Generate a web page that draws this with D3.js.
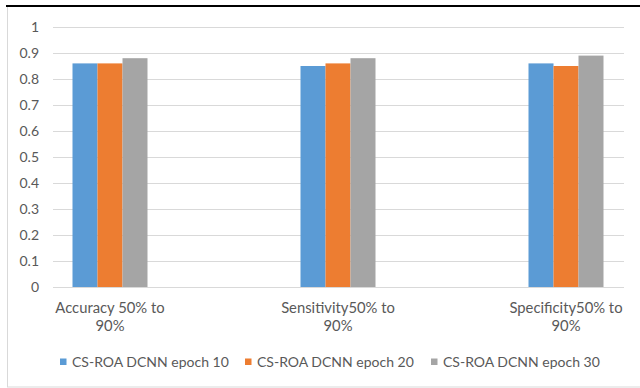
<!DOCTYPE html>
<html lang="en">
<head>
    <meta charset="UTF-8">
    <script src="https://cdn.jsdelivr.net/npm/d3@7"></script>
    <title>CS-ROA DCNN</title>
    <style>
        body { margin: 0; background: #fff; }
        text { font-family: Lato, "Liberation Sans", Arial, sans-serif; fill: #595959; font-size: 14px; }
    </style>
</head>
<body>
<svg width="640" height="388"></svg>

<script>
    const categories = ["Accuracy 50% to 90%", "Sensitivity50% to 90%", "Specificity50% to 90%"];
    const catLines = [["Accuracy 50% to", "90%"], ["Sensitivity50% to", "90%"], ["Specificity50% to", "90%"]];
    const series = ["CS-ROA DCNN epoch 10", "CS-ROA DCNN epoch 20", "CS-ROA DCNN epoch 30"];
    const epoch10 = [0.86, 0.85, 0.86];
    const epoch20 = [0.86, 0.86, 0.85];
    const epoch30 = [0.88, 0.88, 0.89];
    const yTicks = [0, 0.1, 0.2, 0.3, 0.4, 0.5, 0.6, 0.7, 0.8, 0.9, 1];
    const colors = ["#5b9bd5", "#ed7d31", "#a5a5a5"];

    const values = [epoch10, epoch20, epoch30];

    const svg = d3.select("svg");

    // chart frame
    svg.append("rect")
        .attr("x", 7.5).attr("y", 6).attr("width", 640).attr("height", 381)
        .attr("fill", "none").attr("stroke", "#d9d9d9");
    svg.append("line")
        .attr("x1", 6).attr("x2", 640).attr("y1", 6).attr("y2", 6)
        .attr("stroke", "#000").attr("stroke-width", 2);

    const plotL = 53, plotR = 624;
    const y = d3.scaleLinear().domain([0, 1]).range([287, 27]);
    const x = d3.scalePoint().domain(categories).range([110, 566]);
    const inner = d3.scaleBand().domain(series).range([-37.5, 37.5]);

    // gridlines
    svg.append("g").selectAll("line")
        .data(yTicks)
        .join("line")
          .attr("x1", plotL).attr("x2", plotR)
          .attr("y1", d => Math.round(y(d)) + 0.5).attr("y2", d => Math.round(y(d)) + 0.5)
          .attr("stroke", "#d9d9d9");

    svg.append("g").selectAll("text")
        .data(yTicks)
        .join("text")
          .attr("x", 39).attr("y", d => y(d) + 5)
          .attr("text-anchor", "end")
          .text(d => d3.format("")(d));

    // bars
    const groups = svg.append("g").selectAll("g")
        .data(series)
        .join("g")
          .attr("fill", (d, i) => colors[i]);
    groups.selectAll("rect")
        .data((s, i) => categories.map((c, j) => ({s: s, c: c, v: values[i][j]})))
        .join("rect")
          .attr("x", d => x(d.c) + inner(d.s))
          .attr("width", inner.bandwidth())
          .attr("y", d => y(d.v))
          .attr("height", d => y(0) - y(d.v));

    // category labels
    svg.append("g").selectAll("text")
        .data(categories)
        .join("text")
          .attr("x", d => x(d))
          .attr("y", 313)
          .attr("text-anchor", "middle")
          .style("font-size", "14.8px")
          .selectAll("tspan")
          .data((d, i) => catLines[i])
          .join("tspan")
            .attr("x", function() { return this.parentNode.getAttribute("x"); })
            .attr("dy", (d, i) => i ? 17.5 : 0)
            .text(d => d);

    // legend
    const legX = [60, 245, 431];
    const leg = svg.append("g").selectAll("g")
        .data(series)
        .join("g")
          .attr("transform", (d, i) => `translate(${legX[i]},362)`);
    leg.append("rect")
        .attr("x", 0).attr("y", -3.5).attr("width", 6.5).attr("height", 6.5)
        .attr("fill", (d, i) => colors[i]);
    leg.append("text")
        .attr("x", 12).attr("y", 5)
        .text(d => d);
</script>

</body>
</html>
